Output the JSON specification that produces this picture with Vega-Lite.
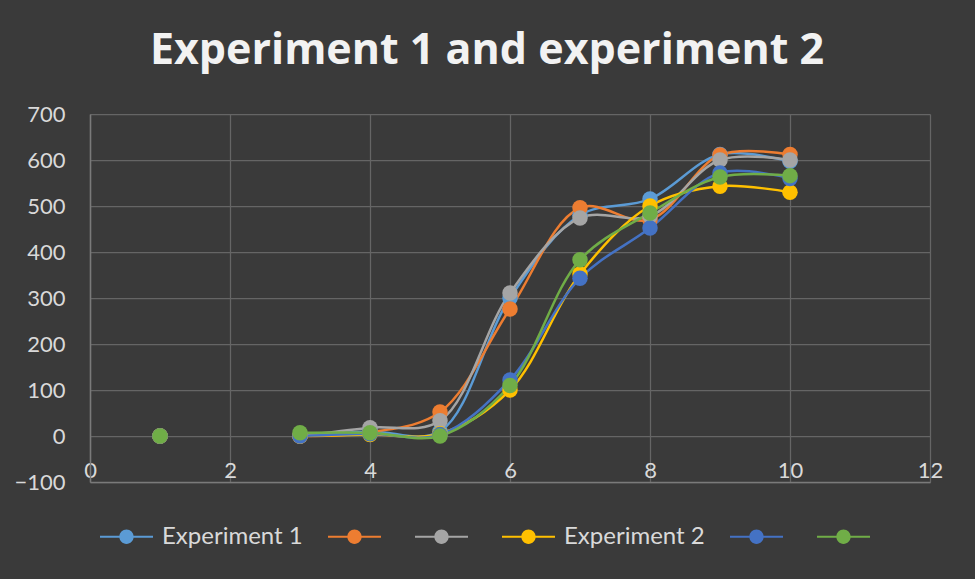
{
  "$schema": "https://vega.github.io/schema/vega-lite/v6.json",
  "width": 840,
  "height": 368,
  "autosize": "none",
  "padding": {"left": 90, "top": 114, "right": 45, "bottom": 97},
  "background": "#3a3a3a",
  "title": {
    "text": "Experiment 1 and experiment 2",
    "font": "Open Sans",
    "fontSize": 43,
    "fontWeight": "bold",
    "color": "#F2F2F2",
    "anchor": "middle",
    "dx": -23,
    "baseline": "alphabetic",
    "offset": -4
  },
  "data": {
    "values": [
      {"series": "Experiment 1", "x": 1, "y": 0},
      {"series": "Experiment 1", "x": 3, "y": 0},
      {"series": "Experiment 1", "x": 4, "y": 10},
      {"series": "Experiment 1", "x": 5, "y": 10},
      {"series": "Experiment 1", "x": 6, "y": 300},
      {"series": "Experiment 1", "x": 7, "y": 480},
      {"series": "Experiment 1", "x": 8, "y": 515},
      {"series": "Experiment 1", "x": 9, "y": 612},
      {"series": "Experiment 1", "x": 10, "y": 597},
      {"series": "Series 2", "x": 1, "y": 0},
      {"series": "Series 2", "x": 3, "y": 0},
      {"series": "Series 2", "x": 4, "y": 8},
      {"series": "Series 2", "x": 5, "y": 52},
      {"series": "Series 2", "x": 6, "y": 276},
      {"series": "Series 2", "x": 7, "y": 496},
      {"series": "Series 2", "x": 8, "y": 470},
      {"series": "Series 2", "x": 9, "y": 611},
      {"series": "Series 2", "x": 10, "y": 612},
      {"series": "Series 3", "x": 1, "y": 0},
      {"series": "Series 3", "x": 3, "y": 0},
      {"series": "Series 3", "x": 4, "y": 18},
      {"series": "Series 3", "x": 5, "y": 33},
      {"series": "Series 3", "x": 6, "y": 311},
      {"series": "Series 3", "x": 7, "y": 474},
      {"series": "Series 3", "x": 8, "y": 478},
      {"series": "Series 3", "x": 9, "y": 600},
      {"series": "Series 3", "x": 10, "y": 600},
      {"series": "Experiment 2", "x": 1, "y": 0},
      {"series": "Experiment 2", "x": 3, "y": 0},
      {"series": "Experiment 2", "x": 4, "y": 3},
      {"series": "Experiment 2", "x": 5, "y": 5},
      {"series": "Experiment 2", "x": 6, "y": 100},
      {"series": "Experiment 2", "x": 7, "y": 352},
      {"series": "Experiment 2", "x": 8, "y": 500},
      {"series": "Experiment 2", "x": 9, "y": 543},
      {"series": "Experiment 2", "x": 10, "y": 530},
      {"series": "Series 5", "x": 1, "y": 0},
      {"series": "Series 5", "x": 3, "y": 0},
      {"series": "Series 5", "x": 4, "y": 5},
      {"series": "Series 5", "x": 5, "y": 3},
      {"series": "Series 5", "x": 6, "y": 122},
      {"series": "Series 5", "x": 7, "y": 343},
      {"series": "Series 5", "x": 8, "y": 452},
      {"series": "Series 5", "x": 9, "y": 572},
      {"series": "Series 5", "x": 10, "y": 560},
      {"series": "Series 6", "x": 1, "y": 0},
      {"series": "Series 6", "x": 3, "y": 7},
      {"series": "Series 6", "x": 4, "y": 7},
      {"series": "Series 6", "x": 5, "y": 0},
      {"series": "Series 6", "x": 6, "y": 110},
      {"series": "Series 6", "x": 7, "y": 383},
      {"series": "Series 6", "x": 8, "y": 485},
      {"series": "Series 6", "x": 9, "y": 563},
      {"series": "Series 6", "x": 10, "y": 566}
    ]
  },
  "encoding": {
    "x": {
      "field": "x",
      "type": "quantitative",
      "scale": {"domain": [0, 12], "nice": false, "zero": false},
      "axis": {
        "values": [0, 2, 4, 6, 8, 10, 12],
        "title": null,
        "labelBaseline": "alphabetic",
        "labelPadding": -5,
        "labelFlush": false,
        "labelOverlap": false,
        "ticks": false,
        "tickSize": 0
      }
    },
    "y": {
      "field": "y",
      "type": "quantitative",
      "scale": {"domain": [-100, 700], "nice": false, "zero": false},
      "axis": {
        "values": [-100, 0, 100, 200, 300, 400, 500, 600, 700],
        "title": null,
        "labelPadding": 25,
        "ticks": false,
        "tickSize": 0
      }
    },
    "color": {
      "field": "series",
      "type": "nominal",
      "scale": {
        "domain": ["Experiment 1", "Series 2", "Series 3", "Experiment 2", "Series 5", "Series 6"],
        "range": ["#5B9BD5", "#ED7D31", "#A5A5A5", "#FFC000", "#4472C4", "#70AD47"]
      },
      "legend": {
        "orient": "none",
        "legendX": 10,
        "legendY": 396,
        "direction": "horizontal",
        "columns": 6,
        "title": null,
        "labelExpr": "(datum.label == 'Experiment 1' || datum.label == 'Experiment 2') ? datum.label : ''",
        "symbolType": "M-1,-0.04H1V0.04H-1Z M0.27,0A0.27,0.27 0 1,1 -0.27,0A0.27,0.27 0 1,1 0.27,0Z",
        "symbolSize": 2809,
        "symbolStrokeWidth": 0,
        "labelOffset": 9,
        "columnPadding": 25,
        "encode": {
          "symbols": {
            "update": {
              "fill": {"scale": "color", "field": "value"},
              "stroke": {"value": "transparent"},
              "opacity": {"value": 1}
            }
          }
        }
      }
    }
  },
  "layer": [
    {
      "transform": [{"filter": "datum.x >= 3"}],
      "mark": {"type": "line", "interpolate": "catmull-rom", "strokeWidth": 2.5}
    },
    {
      "mark": {"type": "point", "filled": true, "size": 240, "opacity": 1}
    }
  ],
  "config": {
    "view": {"stroke": null},
    "axis": {
      "labelFont": "Lato",
      "labelFontSize": 22,
      "labelColor": "#D9D9D9",
      "gridColor": "#656565",
      "gridWidth": 1.25,
      "domainColor": "#7a7a7a",
      "domainWidth": 1.5
    },
    "legend": {
      "labelFont": "Lato",
      "labelFontSize": 24,
      "labelColor": "#D9D9D9",
      "labelLimit": 300
    }
  }
}
